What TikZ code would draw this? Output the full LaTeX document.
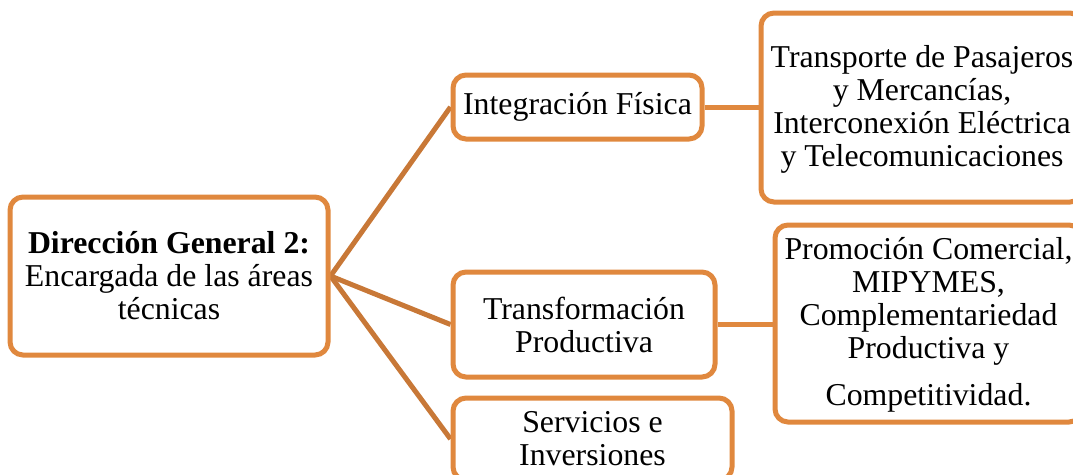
\documentclass[tikz,border=0pt]{standalone}
\usepackage{fontspec}
\setmainfont{Liberation Serif}
\usetikzlibrary{backgrounds}
\definecolor{boxorange}{HTML}{E0883E}
\definecolor{linkbrown}{HTML}{C87837}
\begin{document}
\begin{tikzpicture}[x=1pt,y=-1pt,
  box/.style={draw=boxorange,line width=5pt,fill=white,rounded corners=13pt,
    align=center,inner sep=0pt,font=\fontsize{31.8}{33}\selectfont},
  link/.style={draw=linkbrown,line width=5pt},
  sidelink/.style={draw=boxorange,line width=5pt}]
\useasboundingbox (0,0) rectangle (1073,474);
\node[box,minimum width=318pt,minimum height=158pt] (root) at (169,276)
  {\textbf{Dirección General 2:}\\Encargada de las áreas\\técnicas};
\node[box,minimum width=249pt,minimum height=64pt] (integ) at (577.5,107)
  {Integración Física};
\node[box,minimum width=262pt,minimum height=105pt] (trans) at (584,324.5)
  {Transformación\\Productiva};
\node[box,minimum width=279pt,minimum height=82pt] (serv) at (592.5,439)
  {Servicios e\\Inversiones};
\node[box,minimum width=322pt,minimum height=189pt] (transp) at (922,107.5)
  {\\[-8pt]Transporte de Pasajeros\\y Mercancías,\\Interconexión Eléctrica\\y Telecomunicaciones};
\node[box,minimum width=307pt,minimum height=197pt] (promo) at (928.5,323.5)
  {\\[-8pt]Promoción Comercial,\\MIPYMES,\\Complementariedad\\Productiva y\\[14pt]Competitividad.};
\begin{scope}[on background layer]
\draw[link] (root.east) -- (integ.west);
\draw[link] (root.east) -- (trans.west);
\draw[link] (root.east) -- (serv.west);
\draw[sidelink] (integ.east) -- (transp.west |- integ.east);
\draw[sidelink] (trans.east) -- (promo.west |- trans.east);
\end{scope}
\end{tikzpicture}
\end{document}
